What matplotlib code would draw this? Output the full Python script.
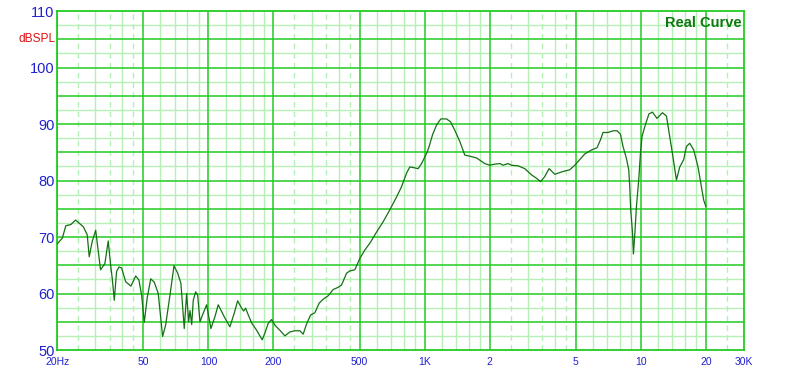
import matplotlib
matplotlib.use("Agg")
import matplotlib.pyplot as plt
from matplotlib.ticker import NullLocator

plt.rcParams['font.family'] = ['Liberation Sans', 'DejaVu Sans']

freq_hz = [
    20, 21.1, 21.9, 23.1, 24.3, 26.4, 27.5, 28.1, 29.0, 30.1,
    31.7, 33.2, 34.4, 35.3, 35.9, 36.7, 37.6, 38.6, 39.7, 41.4,
    43.8, 46.1, 47.7, 49.1, 50.5, 52.1, 54.1, 56.2, 58.6, 61.4,
    63.4, 66.4, 69.3, 72.1, 74.6, 77.3, 79.3, 81.0, 82.2, 83.7,
    85.1, 87.3, 89.2, 91.4, 94.6, 98.1, 102.7, 107.2, 111, 118.3,
    125.7, 131.6, 136.5, 142.4, 145.5, 148.6, 151.8, 158.4, 167.1, 177.4,
    182.5, 189, 196, 203, 214, 225.8, 238.2, 251.2, 264.9, 274.4,
    284.4, 296.9, 310.8, 325.4, 339.6, 358, 377.6, 398.2, 412.8, 435.6,
    451, 475.6, 501.6, 529, 558, 600, 643, 690, 742, 782,
    825, 854, 885, 933, 968, 1021, 1049, 1088, 1135, 1188,
    1263, 1318, 1379, 1455, 1534, 1618, 1738, 1800, 1898, 2002,
    2112, 2228, 2306, 2432, 2522, 2706, 2906, 3122, 3292, 3436,
    3596, 3764, 4000, 4218, 4368, 4692, 4948, 5220, 5506, 5910,
    6274, 6506, 6688, 7054, 7440, 7764, 8050, 8276, 8580, 8794,
    8888, 8982, 9146, 9244, 9404, 9544, 9780, 9960, 10130, 10540,
    10910, 11320, 11880, 12590, 13140, 13600, 14000, 14610, 15140, 15790,
    16250, 16830, 17570, 18390, 19070, 19540, 20000,
]
spl_db = [
    68.8, 69.8, 72.0, 72.2, 73.0, 71.8, 70.4, 66.5, 69.2, 71.2,
    64.2, 65.3, 69.3, 65.0, 62.7, 58.8, 63.9, 64.7, 64.5, 62.1,
    61.3, 63.1, 62.4, 59.7, 54.9, 59.2, 62.6, 62.0, 60.0, 52.4,
    54.4, 59.7, 64.9, 63.6, 61.8, 53.8, 60.0, 55.0, 57.0, 54.5,
    58.8, 60.3, 59.7, 55.0, 56.5, 58.0, 53.8, 55.9, 58.0, 55.9,
    54.1, 56.5, 58.7, 57.4, 56.9, 57.4, 56.5, 54.8, 53.5, 51.8,
    53.0, 54.7, 55.4, 54.4, 53.5, 52.5, 53.2, 53.4, 53.4, 52.8,
    54.6, 56.2, 56.6, 58.3, 59.0, 59.6, 60.7, 61.1, 61.5, 63.6,
    64.0, 64.2, 66.2, 67.7, 68.9, 70.9, 72.7, 74.8, 77.1, 78.9,
    81.3, 82.4, 82.3, 82.1, 83.0, 84.8, 86.0, 88.1, 89.8, 90.9,
    90.9, 90.4, 88.9, 86.9, 84.5, 84.3, 84.0, 83.6, 83.0, 82.7,
    82.9, 83.0, 82.7, 83.0, 82.7, 82.6, 82.1, 81.0, 80.4, 79.8,
    80.7, 82.1, 81.1, 81.4, 81.6, 81.9, 82.7, 83.7, 84.7, 85.4,
    85.8, 87.2, 88.5, 88.5, 88.8, 88.8, 88.2, 86.0, 83.9, 81.9,
    78.9, 74.8, 70.9, 67.0, 71.2, 75.4, 80.1, 84.8, 87.8, 90.1,
    91.8, 92.1, 91.0, 92.0, 91.4, 87.8, 84.8, 80.1, 82.4, 83.7,
    86.0, 86.6, 85.4, 82.4, 78.9, 76.5, 75.4,
]

x_ticks = [20, 50, 100, 200, 500, 1000, 2000, 5000, 10000, 20000, 30000]
x_labels = ["20Hz", "50", "100", "200", "500", "1K", "2", "5", "10", "20", "30K"]
y_ticks = [50, 60, 70, 80, 90, 100, 110]

GRID_MAJOR = "#22cc22"
GRID_MINOR = "#b6f0b6"
CURVE = "#157015"
LABEL_BLUE = "#2020d0"

fig = plt.figure(figsize=(8.07, 3.85), dpi=100)
ax = fig.add_axes([0.071, 0.0909, 0.8509, 0.8805])
ax.set_xscale("log")
ax.set_xlim(20, 30000)
ax.set_ylim(50, 110)

# grid: decades split like the analyser does it
solid_minor, dashed_minor = [], []
for b in [10, 100, 1000, 10000]:
    solid_minor += [b * 3, b * 4]
    dashed_minor += [b * 2.5, b * 3.5, b * 4.5]
    solid_minor += [b * 6, b * 7, b * 8, b * 9]
    solid_minor += [b * 12, b * 14, b * 16, b * 18]
solid_minor = [f for f in solid_minor if 20 < f < 30000]
dashed_minor = [f for f in dashed_minor if 20 < f < 30000]

for f in solid_minor:
    ax.axvline(f, color=GRID_MINOR, lw=1.0, zorder=1)
for f in dashed_minor:
    ax.axvline(f, color=GRID_MINOR, lw=1.0, ls=(0, (4, 3)), zorder=1)
for y in [52.5 + 5 * i for i in range(12)]:
    ax.axhline(y, color=GRID_MINOR, lw=1.0, zorder=1)
for f in x_ticks[:-1]:
    ax.axvline(f, color=GRID_MAJOR, lw=1.1, zorder=2)
for y in range(55, 110, 5):
    ax.axhline(y, color=GRID_MAJOR, lw=1.1, zorder=2)

ax.plot(freq_hz, spl_db, color=CURVE, lw=0.9, zorder=3)

for s in ax.spines.values():
    s.set_color(GRID_MAJOR)
    s.set_linewidth(1.3)

ax.xaxis.set_minor_locator(NullLocator())
ax.yaxis.set_minor_locator(NullLocator())
ax.set_xticks(x_ticks)
ax.set_xticklabels(x_labels)
ax.set_yticks(y_ticks)
ax.tick_params(axis="both", length=0)
ax.tick_params(axis="x", labelsize=7.5, labelcolor=LABEL_BLUE, pad=5)
ax.tick_params(axis="y", labelsize=10.5, labelcolor=LABEL_BLUE, pad=2)

ax.text(-0.003, 105, "dBSPL", color="#e01010", fontsize=8.6,
        ha="right", va="center", transform=ax.get_yaxis_transform())
ax.text(0.997, 0.965, "Real Curve", color="#0c7a0c", fontsize=10.5,
        fontweight="bold", ha="right", va="center", transform=ax.transAxes)

fig.savefig("out.png", dpi=100)
